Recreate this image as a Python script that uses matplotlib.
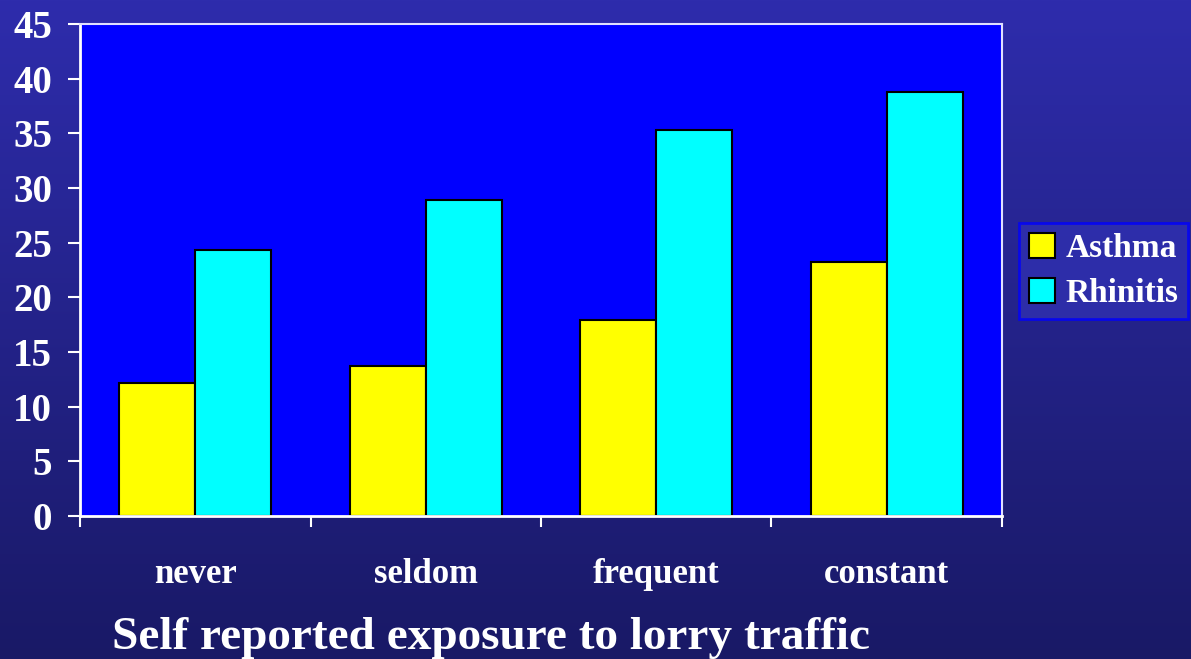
import numpy as np
import matplotlib
matplotlib.use("Agg")
import matplotlib.pyplot as plt

categories = ["never", "seldom", "frequent", "constant"]
asthma = [12.2, 13.7, 17.9, 23.2]
rhinitis = [24.3, 28.9, 35.3, 38.8]
yticks = [0, 5, 10, 15, 20, 25, 30, 35, 40, 45]

plt.rcParams["font.family"] = ["Liberation Serif", "DejaVu Serif"]
plt.rcParams["font.weight"] = "bold"

fig = plt.figure(figsize=(11.91, 6.59), dpi=100)

# background gradient
bg = fig.add_axes([0, 0, 1, 1], zorder=-10)
top = np.array([46, 44, 172]) / 255
bottom = np.array([25, 25, 102]) / 255
t = np.linspace(0, 1, 256)[:, None]
grad = top * (1 - t) + bottom * t
bg.imshow(grad[:, None, :].repeat(2, axis=1), aspect="auto", extent=[0, 1, 0, 1])
bg.axis("off")

ax = fig.add_axes([80 / 1191, 143 / 659, 922 / 1191, 492 / 659])
ax.set_facecolor("#0000FF")

x = np.arange(len(categories))
w = 0.33
ax.bar(x - w / 2, asthma, w, color="#FFFF00", edgecolor="black", linewidth=1.5, label="Asthma")
ax.bar(x + w / 2, rhinitis, w, color="#00FFFF", edgecolor="black", linewidth=1.5, label="Rhinitis")

ax.set_xlim(-0.5, len(categories) - 0.5)
ax.set_ylim(0, 45)
ax.set_yticks(yticks)
ax.set_xticks(np.arange(len(categories) + 1) - 0.5)
ax.set_xticklabels([])
ax.set_xticks(x, minor=True)
ax.set_xticklabels(categories, minor=True, fontsize=25, color="white")
ax.tick_params(axis="x", which="minor", length=0, pad=30)
ax.tick_params(axis="x", which="major", length=8, width=1.5, color="white")
ax.tick_params(axis="y", length=9, width=1.5, color="white", labelcolor="white",
               labelsize=28, pad=11)

for s in ["left", "bottom"]:
    ax.spines[s].set_color("white")
    ax.spines[s].set_linewidth(2)
for s in ["top", "right"]:
    ax.spines[s].set_color("#E0E0FF")
    ax.spines[s].set_linewidth(1.5)

leg = ax.legend(loc="center left", bbox_to_anchor=(1.018, 0.498), fontsize=24,
                frameon=True, fancybox=False, handlelength=0.8, handleheight=0.8,
                handletextpad=0.3, borderpad=0.3, labelspacing=0.4,
                borderaxespad=0)
leg.get_frame().set_facecolor("#3030B0")
leg.get_frame().set_edgecolor("#0000FF")
leg.get_frame().set_linewidth(2)
for txt in leg.get_texts():
    txt.set_color("white")

fig.text(112 / 1191, 1 - 638 / 659, "Self reported exposure to lorry traffic",
         fontsize=34, color="white", ha="left", va="center")

fig.savefig("out.png", dpi=100)
